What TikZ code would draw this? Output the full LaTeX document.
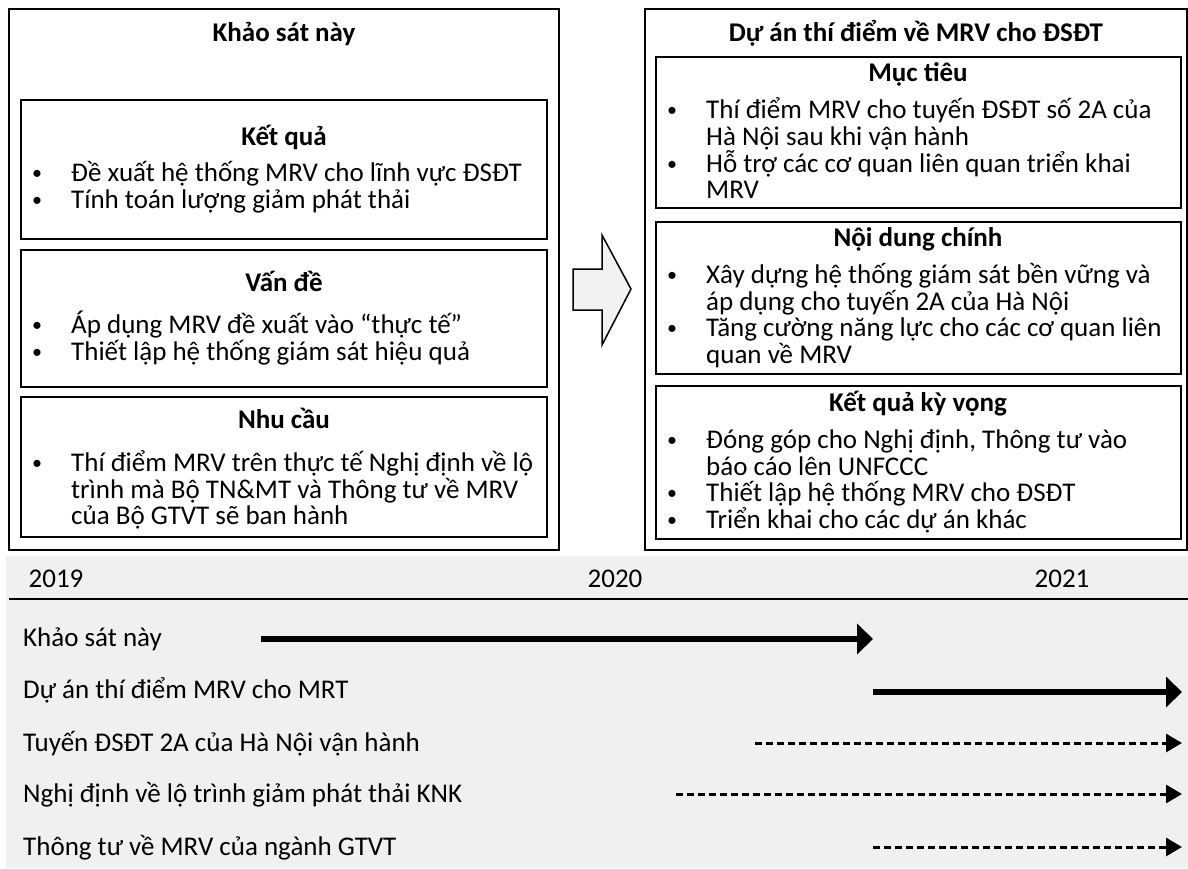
\documentclass[tikz,border=0pt]{standalone}
\usepackage{fontspec}
\setmainfont{Carlito}
\usetikzlibrary{arrows.meta}
\definecolor{bgfill}{HTML}{F0F0F0}
\definecolor{arrfill}{HTML}{F2F2F2}
\newcommand{\bitem}[4]{%
  \node[bul,anchor=base] (#1b) at (#2,{#3-2}) {\textbullet};
  \node[txt,anchor=base west] (#1) at ({#2+34},#3) {#4};}
\newcommand{\contline}[4]{%
  \node[txt,anchor=base west] (#1) at ({#2+34},#3) {#4};}
\begin{document}
\begin{tikzpicture}[x=1pt,y=-1pt,
  txt/.style={inner sep=0pt,font=\fontsize{27}{27}\selectfont},
  bul/.style={inner sep=0pt,font=\fontsize{20}{20}\selectfont},
  ttl/.style={inner sep=0pt,anchor=base,font=\fontsize{27}{27}\selectfont\bfseries},
  outerbox/.style={draw=black,line width=1.4pt},
  innerbox/.style={draw=black,line width=1.3pt},
  solidarrow/.style={line width=6pt,-{Triangle[length=16pt,width=30pt]}},
  dasharrow/.style={line width=3pt,dash pattern=on 7pt off 4pt,-{Triangle[length=16pt,width=18pt]}}]
\useasboundingbox (0,0) rectangle (1188,868);
% timeline background
\fill[bgfill] (6,556) rectangle (1188,868);
% outer boxes
\draw[outerbox] (9,9) rectangle (559,550);
\draw[outerbox] (645,9) rectangle (1187,550);
% left inner boxes
\draw[innerbox] (21,100) rectangle (547,239);
\draw[innerbox] (21,250) rectangle (547,387);
\draw[innerbox] (21,397) rectangle (547,537);
% right inner boxes
\draw[innerbox] (656,57) rectangle (1181,208);
\draw[innerbox] (656,222) rectangle (1181,374);
\draw[innerbox] (656,386) rectangle (1181,539);
% block arrow
\draw[fill=arrfill,line width=1.5pt,line join=miter] (573,269) -- (602,269) -- (602,235) -- (631,289) -- (602,345) -- (602,310) -- (573,310) -- cycle;
% left texts
\node[ttl] (lt) at (284,41) {Khảo sát này};
\node[ttl] (kq) at (284,145) {Kết quả};
\bitem{kq1}{37}{181}{Đề xuất hệ thống MRV cho lĩnh vực ĐSĐT}
\bitem{kq2}{37}{208}{Tính toán lượng giảm phát thải}
\node[ttl] (vd) at (284,291) {Vấn đề};
\bitem{vd1}{37}{333}{Áp dụng MRV đề xuất vào “thực tế”}
\bitem{vd2}{37}{360}{Thiết lập hệ thống giám sát hiệu quả}
\node[ttl] (nc) at (284,428) {Nhu cầu};
\bitem{nc1}{37}{471}{Thí điểm MRV trên thực tế Nghị định về lộ}
\contline{nc2}{37}{498}{trình mà Bộ TN\&MT và Thông tư về MRV}
\contline{nc3}{37}{524}{của Bộ GTVT sẽ ban hành}
% right texts
\node[ttl] (rt) at (916,41) {Dự án thí điểm về MRV cho ĐSĐT};
\node[ttl] (mt) at (918,81) {Mục tiêu};
\bitem{mt1}{672}{118}{Thí điểm MRV cho tuyến ĐSĐT số 2A của}
\contline{mt2}{672}{145}{Hà Nội sau khi vận hành}
\bitem{mt3}{672}{172}{Hỗ trợ các cơ quan liên quan triển khai}
\contline{mt4}{672}{198}{MRV}
\node[ttl] (nd) at (918,246) {Nội dung chính};
\bitem{nd1}{672}{283}{Xây dựng hệ thống giám sát bền vững và}
\contline{nd2}{672}{310}{áp dụng cho tuyến 2A của Hà Nội}
\bitem{nd3}{672}{336}{Tăng cường năng lực cho các cơ quan liên}
\contline{nd4}{672}{363}{quan về MRV}
\node[ttl] (kv) at (918,411) {Kết quả kỳ vọng};
\bitem{kv1}{672}{448}{Đóng góp cho Nghị định, Thông tư vào}
\contline{kv2}{672}{475}{báo cáo lên UNFCCC}
\bitem{kv3}{672}{501}{Thiết lập hệ thống MRV cho ĐSĐT}
\bitem{kv4}{672}{528}{Triển khai cho các dự án khác}
% timeline
\node[txt,anchor=base] (y19) at (56,587) {2019};
\node[txt,anchor=base] (y20) at (615,587) {2020};
\node[txt,anchor=base] (y21) at (1062,587) {2021};
\coordinate (tl0) at (9,599);
\coordinate (tl1) at (1188,599);
\draw[line width=1.2pt] (tl0) -- (tl1);
\node[txt,anchor=base west] (r1) at (23,646) {Khảo sát này};
\node[txt,anchor=base west] (r2) at (23,698) {Dự án thí điểm MRV cho MRT};
\node[txt,anchor=base west] (r3) at (23,751) {Tuyến ĐSĐT 2A của Hà Nội vận hành};
\node[txt,anchor=base west] (r4) at (23,802) {Nghị định về lộ trình giảm phát thải KNK};
\node[txt,anchor=base west] (r5) at (23,855) {Thông tư về MRV của ngành GTVT};
\coordinate (a1s) at (261,639); \coordinate (a1e) at (873,639);
\coordinate (a2s) at (873,692); \coordinate (a2e) at (1182,692);
\coordinate (a3s) at (755,743); \coordinate (a3e) at (1182,743);
\coordinate (a4s) at (676,794); \coordinate (a4e) at (1182,794);
\coordinate (a5s) at (873,847); \coordinate (a5e) at (1182,847);
\draw[solidarrow] (a1s) -- (a1e);
\draw[solidarrow] (a2s) -- (a2e);
\draw[dasharrow] (a3s) -- (a3e);
\draw[dasharrow] (a4s) -- (a4e);
\draw[dasharrow] (a5s) -- (a5e);
\end{tikzpicture}
\end{document}
